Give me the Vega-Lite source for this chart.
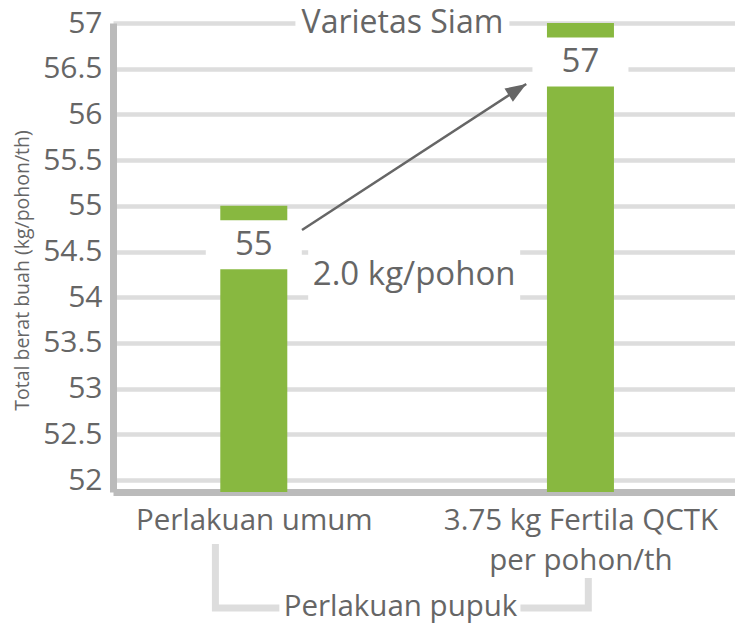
{
  "$schema": "https://vega.github.io/schema/vega-lite/v6.json",
  "autosize": {"type": "none"},
  "width": 622,
  "height": 469,
  "padding": {"left": 113, "top": 23, "right": 0, "bottom": 134},
  "background": "white",
  "config": {
    "font": "Open Sans",
    "view": {"stroke": null},
    "text": {"font": "Open Sans", "color": "#666666"}
  },
  "datasets": {
    "batang": [
      {"perlakuan": "Perlakuan umum", "posisi": 1, "berat": 55},
      {"perlakuan": "3.75 kg Fertila QCTK per pohon/th", "posisi": 2, "berat": 57}
    ],
    "judul": [{"teks": "Varietas Siam", "posisi": 1.455, "berat": 57}],
    "selisih": [{"teks": "2.0 kg/pohon", "posisi": 1.491, "berat": 54.243}],
    "panah": [
      {"posisi": 1.1476, "berat": 54.735, "urut": 1},
      {"posisi": 1.834, "berat": 56.333, "urut": 2}
    ],
    "ujung": [{"posisi": 1.834, "berat": 56.333}],
    "kurung": [
      {"bagian": "kiri", "urut": 1, "posisi": 0.8825, "berat": 51.30},
      {"bagian": "kiri", "urut": 2, "posisi": 0.8825, "berat": 50.60},
      {"bagian": "kiri", "urut": 3, "posisi": 1.0783, "berat": 50.60},
      {"bagian": "kanan", "urut": 1, "posisi": 1.8163, "berat": 50.60},
      {"bagian": "kanan", "urut": 2, "posisi": 2.0241, "berat": 50.60},
      {"bagian": "kanan", "urut": 3, "posisi": 2.0241, "berat": 50.93}
    ]
  },
  "encoding": {
    "x": {
      "field": "posisi",
      "type": "quantitative",
      "scale": {"domain": [0.5843, 2.4578], "nice": false, "zero": false},
      "axis": {
        "values": [1, 2],
        "labelExpr": "datum.value == 1 ? 'Perlakuan umum' : ['3.75 kg Fertila QCTK', 'per pohon/th']",
        "labelFontSize": 29.5,
        "labelColor": "#666666",
        "labelFont": "Open Sans",
        "labelBaseline": "top",
        "labelPadding": 14,
        "labelLineHeight": 40,
        "labelLimit": 0,
        "labelOverlap": false,
        "labelFlush": false,
        "ticks": false,
        "grid": false,
        "domainColor": "#bbbbbb",
        "domainWidth": 7,
        "title": "Perlakuan pupuk",
        "titleFont": "Open Sans",
        "titleFontSize": 29.5,
        "titleFontWeight": "normal",
        "titleColor": "#666666",
        "titleX": 287,
        "titleY": 114,
        "titleBaseline": "middle",
        "titleLimit": 0
      }
    },
    "y": {
      "field": "berat",
      "type": "quantitative",
      "scale": {"domain": [51.87, 57], "nice": false, "zero": false},
      "axis": {
        "values": [52, 52.5, 53, 53.5, 54, 54.5, 55, 55.5, 56, 56.5, 57],
        "format": "~g",
        "labelFontSize": 30,
        "labelColor": "#666666",
        "labelFont": "Open Sans",
        "labelPadding": 11,
        "ticks": false,
        "grid": true,
        "gridColor": "#dddddd",
        "gridWidth": 4.5,
        "domainColor": "#bbbbbb",
        "domainWidth": 7,
        "title": "Total berat buah (kg/pohon/th)",
        "titleFont": "Open Sans",
        "titleFontSize": 19.5,
        "titleFontWeight": "normal",
        "titleColor": "#666666",
        "titlePadding": 10,
        "titleY": 247,
        "titleLimit": 0
      }
    }
  },
  "layer": [
    {
      "data": {"name": "batang"},
      "mark": {"type": "bar", "color": "#88b840", "width": 67, "clip": true}
    },
    {
      "data": {"name": "batang"},
      "mark": {"type": "point", "shape": "M-1,-0.51H1V0.51H-1Z", "size": 9216, "filled": true, "fill": "white", "opacity": 1, "strokeWidth": 0, "yOffset": 39}
    },
    {
      "data": {"name": "batang"},
      "mark": {"type": "text", "fontSize": 33, "baseline": "middle", "align": "center", "yOffset": 39, "color": "#666666"},
      "encoding": {"text": {"field": "berat", "type": "quantitative"}}
    },
    {
      "data": {"name": "judul"},
      "mark": {"type": "point", "shape": "M-1,-0.15H1V0.15H-1Z", "size": 45796, "filled": true, "fill": "white", "opacity": 1, "strokeWidth": 0}
    },
    {
      "data": {"name": "judul"},
      "mark": {"type": "text", "fontSize": 32, "baseline": "middle", "align": "center", "color": "#666666"},
      "encoding": {"text": {"field": "teks"}}
    },
    {
      "data": {"name": "selisih"},
      "mark": {"type": "point", "shape": "M-1,-0.29H1V0.29H-1Z", "size": 44944, "filled": true, "fill": "white", "opacity": 1, "strokeWidth": 0}
    },
    {
      "data": {"name": "selisih"},
      "mark": {"type": "text", "fontSize": 33, "baseline": "middle", "align": "center", "color": "#666666"},
      "encoding": {"text": {"field": "teks"}}
    },
    {
      "data": {"name": "panah"},
      "mark": {"type": "line", "color": "#666666", "strokeWidth": 2.5},
      "encoding": {"order": {"field": "urut"}}
    },
    {
      "data": {"name": "ujung"},
      "mark": {"type": "point", "shape": "M0,0L0.6,1.6L-0.6,1.6Z", "size": 676, "angle": 57.4, "filled": true, "fill": "#666666", "opacity": 1, "strokeWidth": 0}
    },
    {
      "data": {"name": "kurung"},
      "mark": {"type": "line", "color": "#dddddd", "strokeWidth": 7, "strokeJoin": "miter", "strokeCap": "butt", "clip": false},
      "encoding": {"order": {"field": "urut"}, "detail": {"field": "bagian"}}
    }
  ]
}
